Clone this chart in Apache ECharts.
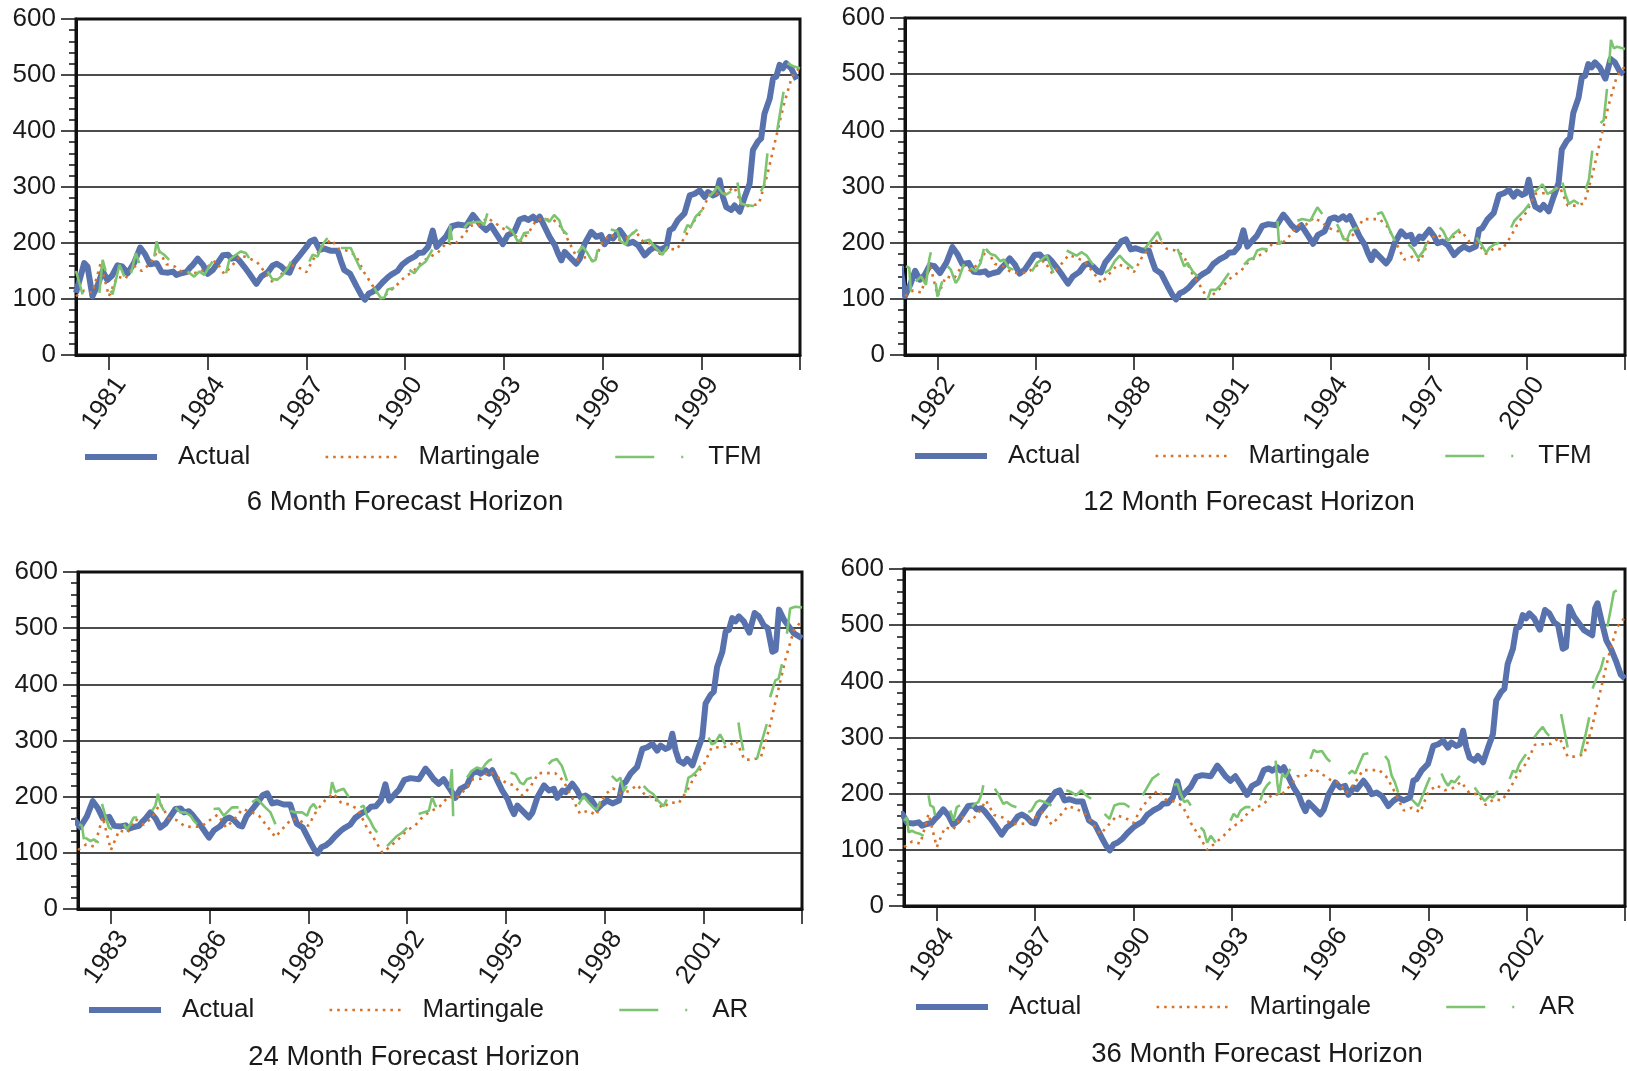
<!DOCTYPE html>
<html>
<head>
<meta charset="utf-8">
<script src="https://cdn.jsdelivr.net/npm/echarts@6/dist/echarts.min.js"></script>
<style>
  html, body { margin: 0; padding: 0; background: #fff; }
  #chart { width: 1627px; height: 1071px; }
</style>
</head>
<body>
<div id="chart"></div>
<script>
// actual index, [year, value]
const actual = [
  [1980.5,111],[1980.75,164],[1980.85,158],[1981.0,105],[1981.16,125],[1981.31,150],[1981.45,134],[1981.6,142],
  [1981.76,160],[1981.9,158],[1982.07,146],[1982.27,165],[1982.45,192],[1982.6,180],[1982.75,162],[1982.95,164],
  [1983.1,148],[1983.3,147],[1983.45,149],[1983.55,143],[1983.7,146],[1983.85,148],[1983.95,155],[1984.05,161],
  [1984.2,172],[1984.36,161],[1984.5,145],[1984.66,152],[1984.81,165],[1984.96,178],[1985.12,179],[1985.22,172],
  [1985.37,174],[1985.47,168],[1985.62,157],[1985.77,145],[1985.98,127],[1986.13,140],[1986.33,148],[1986.48,160],
  [1986.6,163],[1986.74,158],[1986.89,149],[1986.99,147],[1987.12,165],[1987.3,178],[1987.49,192],[1987.62,203],
  [1987.75,206],[1987.9,188],[1988.05,190],[1988.25,186],[1988.45,186],[1988.55,168],[1988.65,152],[1988.83,145],
  [1989.03,122],[1989.17,107],[1989.28,99],[1989.4,110],[1989.52,113],[1989.67,120],[1989.82,130],[1990.0,140],
  [1990.12,145],[1990.27,150],[1990.42,162],[1990.6,170],[1990.8,176],[1990.9,182],[1991.05,183],[1991.2,193],
  [1991.34,222],[1991.46,193],[1991.62,204],[1991.75,212],[1991.92,230],[1992.1,233],[1992.36,231],[1992.56,250],
  [1992.66,243],[1992.81,231],[1992.96,223],[1993.11,231],[1993.32,212],[1993.47,198],[1993.62,214],[1993.82,220],
  [1993.98,242],[1994.13,245],[1994.24,241],[1994.39,247],[1994.49,241],[1994.59,247],[1994.74,229],[1994.89,211],
  [1995.05,196],[1995.15,181],[1995.25,169],[1995.35,184],[1995.5,175],[1995.7,163],[1995.81,172],[1995.96,199],
  [1996.16,220],[1996.31,211],[1996.46,214],[1996.56,198],[1996.72,211],[1996.82,208],[1997.02,223],[1997.17,211],
  [1997.27,199],[1997.42,202],[1997.58,196],[1997.78,178],[1997.93,187],[1998.08,193],[1998.24,188],[1998.44,193],
  [1998.54,223],[1998.64,226],[1998.79,241],[1998.99,253],[1999.15,285],[1999.3,288],[1999.45,294],[1999.6,282],
  [1999.7,291],[1999.86,285],[1999.96,288],[2000.06,312],[2000.16,282],[2000.26,264],[2000.41,259],[2000.51,267],
  [2000.67,256],[2000.82,282],[2000.97,306],[2001.07,366],[2001.22,381],[2001.32,387],[2001.42,431],[2001.58,458],
  [2001.68,494],[2001.78,497],[2001.88,518],[2001.98,512],[2002.08,521],[2002.23,512],[2002.4,492],[2002.56,527],
  [2002.69,521],[2002.84,505],[2002.96,500],[2003.1,458],[2003.2,461],[2003.3,533],[2003.45,515],[2003.6,503],
  [2003.75,491],[2004.0,482],[2004.09,530],[2004.16,539],[2004.29,506],[2004.43,473],[2004.57,458],[2004.72,437],
  [2004.87,412],[2005.0,405]
];

// martingale forecast, one value per quarter from the panel start
const martingale = [
  105,115,111,164, 105,140,136,160, 150,163,188,162, 158,147,146,147, 158,168,145,160,
  178,173,166,147, 128,145,161,157, 148,175,193,206, 189,186,178,148, 125,100,112,125,
  140,149,166,175, 183,200,197,212, 231,232,245,235, 225,220,202,218, 242,242,242,228,
  200,170,175,167, 203,215,206,210, 221,201,199,180, 190,188,210,237, 255,287,288,289,
  300,266,266,270, 320,383,445,496, 514
];

// model forecasts, drawn pieces of [year, value]
const tfm6 = [
  [[1980.0,150],[1980.05,152],[1980.2,108]],
  [[1980.71,111],[1980.81,170],[1980.9,150]],
  [[1981.05,115],[1981.11,108],[1981.32,161],[1981.47,140]],
  [[1981.67,146],[1981.82,182],[1981.92,164]],
  [[1982.38,176],[1982.45,203],[1982.53,185],[1982.68,179],[1982.83,170]],
  [[1983.39,149],[1983.59,140],[1983.75,149],[1983.9,143],[1984.05,158],[1984.15,167]],
  [[1984.56,146],[1984.66,170],[1984.86,179],[1985.01,185],[1985.16,182],[1985.26,173]],
  [[1985.82,149],[1985.97,135],[1986.13,135],[1986.28,143],[1986.43,155],[1986.53,167]],
  [[1987.09,167],[1987.19,179],[1987.34,176],[1987.49,197],[1987.64,209]],
  [[1988.05,191],[1988.35,191],[1988.51,170],[1988.66,152]],
  [[1989.06,120],[1989.26,102],[1989.37,102],[1989.47,117],[1989.67,120]],
  [[1990.13,152],[1990.28,146],[1990.43,158],[1990.63,167],[1990.83,188]],
  [[1991.33,200],[1991.37,232],[1991.42,205]],
  [[1991.8,227],[1991.9,235],[1992.1,237],[1992.3,238],[1992.4,232],[1992.5,253]],
  [[1993.06,230],[1993.26,221],[1993.42,203],[1993.52,206],[1993.62,218],[1993.77,219]],
  [[1994.23,244],[1994.38,238],[1994.53,250],[1994.68,241],[1994.78,224],[1994.93,215]],
  [[1995.24,182],[1995.39,194],[1995.54,182],[1995.69,167],[1995.79,170],[1995.85,188]],
  [[1996.25,224],[1996.45,221],[1996.55,203],[1996.71,197],[1996.81,212],[1997.06,224]],
  [[1997.26,203],[1997.42,206],[1997.57,194],[1997.72,185],[1997.82,179],[1997.97,194]],
  [[1998.48,218],[1998.58,232],[1998.68,229],[1998.83,247],[1999.03,259]],
  [[1999.24,283],[1999.39,292],[1999.49,301],[1999.64,289],[1999.74,286],[1999.9,292]],
  [[2000.1,308],[2000.2,271],[2000.35,268],[2000.6,266]],
  [[2000.81,292],[2000.91,304],[2001.01,360]],
  [[2001.31,402],[2001.5,470]],
  [[2001.62,521],[2001.82,515],[2002.0,512]]
];
const tfm12 = [
  [[1981.03,158],[1981.13,155],[1981.18,113]],
  [[1981.33,131],[1981.49,140],[1981.64,125],[1981.74,170],[1981.79,183]],
  [[1981.94,128],[1981.99,104],[1982.14,131]],
  [[1982.3,158],[1982.4,152],[1982.55,128],[1982.65,137],[1982.8,162]],
  [[1983.0,155],[1983.16,149],[1983.31,164],[1983.41,189]],
  [[1983.47,189],[1983.61,180],[1983.76,177],[1983.91,167],[1984.02,170],[1984.17,155],[1984.32,152]],
  [[1984.88,149],[1985.03,164],[1985.18,170],[1985.33,177],[1985.43,161],[1985.54,146]],
  [[1985.94,186],[1986.24,177],[1986.4,183],[1986.55,177],[1986.75,160]],
  [[1987.1,146],[1987.26,152],[1987.41,167],[1987.56,177],[1987.71,167],[1987.97,154]],
  [[1988.32,189],[1988.47,200],[1988.72,219],[1988.83,204]],
  [[1989.33,189],[1989.43,173],[1989.53,158],[1989.64,164],[1989.79,149],[1989.94,140]],
  [[1990.24,98],[1990.34,116],[1990.5,116],[1990.65,125],[1990.9,146]],
  [[1991.36,161],[1991.51,170],[1991.66,173],[1991.76,186],[1991.91,189],[1992.08,188]],
  [[1992.38,239],[1992.43,197],[1992.53,203]],
  [[1992.99,239],[1993.14,242],[1993.39,239],[1993.49,251],[1993.6,263],[1993.75,251]],
  [[1994.2,233],[1994.3,221],[1994.4,206],[1994.51,206],[1994.61,221],[1994.81,227]],
  [[1995.42,251],[1995.57,254],[1995.72,236],[1995.82,221],[1995.97,203]],
  [[1996.38,197],[1996.53,188],[1996.68,173],[1996.84,185],[1996.94,200]],
  [[1997.34,227],[1997.44,221],[1997.59,203],[1997.75,215],[1997.95,224]],
  [[1998.46,209],[1998.61,197],[1998.76,182],[1998.86,191],[1999.01,197],[1999.16,200]],
  [[1999.52,227],[1999.62,239],[1999.77,248],[1999.92,257],[2000.08,269]],
  [[2000.23,290],[2000.38,298],[2000.48,304],[2000.63,287],[2000.73,290],[2000.94,298]],
  [[2001.09,307],[2001.19,284],[2001.29,269],[2001.44,275],[2001.59,269]],
  [[2001.8,295],[2001.9,313],[2002.0,364]],
  [[2002.25,413],[2002.35,418],[2002.45,474]],
  [[2002.52,520],[2002.57,561],[2002.66,546],[2002.76,549],[2003.0,545]]
];
const ar24 = [
  [[1982.04,151],[1982.12,148],[1982.18,124]],
  [[1982.22,127],[1982.38,121],[1982.48,124],[1982.63,118]],
  [[1982.73,187],[1982.83,166],[1982.94,145],[1983.04,142]],
  [[1983.39,151],[1983.49,142],[1983.59,151],[1983.69,163],[1983.8,163]],
  [[1984.25,175],[1984.35,184],[1984.43,205],[1984.5,187],[1984.61,175]],
  [[1984.96,181],[1985.11,172],[1985.26,172],[1985.42,166],[1985.52,157],[1985.62,151]],
  [[1986.12,178],[1986.28,179],[1986.43,166],[1986.58,175],[1986.68,181],[1986.88,181]],
  [[1987.29,190],[1987.44,196],[1987.59,187],[1987.69,181],[1987.85,172],[1988.0,151]],
  [[1988.45,175],[1988.61,172],[1988.81,172],[1988.96,166],[1989.06,181],[1989.16,187],[1989.26,178]],
  [[1989.67,205],[1989.72,226],[1989.82,208],[1989.92,211],[1990.07,214],[1990.23,199]],
  [[1990.58,181],[1990.68,184],[1990.78,166],[1990.88,157],[1990.98,145],[1991.09,136]],
  [[1991.39,112],[1991.49,118],[1991.59,124],[1991.69,130],[1991.85,136],[1992.0,145]],
  [[1992.35,169],[1992.5,172],[1992.66,175],[1992.76,199],[1992.86,184],[1992.91,183]],
  [[1993.3,215],[1993.36,249],[1993.4,165]],
  [[1993.82,234],[1993.97,246],[1994.12,252],[1994.28,249],[1994.38,258],[1994.48,264],[1994.58,267]],
  [[1995.14,243],[1995.29,240],[1995.44,225],[1995.54,222],[1995.64,231],[1995.79,234]],
  [[1996.3,258],[1996.4,264],[1996.55,267],[1996.7,255],[1996.81,237],[1996.86,228]],
  [[1997.21,186],[1997.36,201],[1997.52,189],[1997.67,180],[1997.77,177],[1997.87,192]],
  [[1998.22,237],[1998.38,228],[1998.48,234],[1998.58,210],[1998.68,219]],
  [[1999.19,219],[1999.34,210],[1999.49,204],[1999.64,192],[1999.79,183],[1999.89,195]],
  [[2000.45,207],[2000.55,234],[2000.65,237],[2000.81,246],[2000.91,255]],
  [[2001.16,305],[2001.26,293],[2001.36,296],[2001.51,311],[2001.67,293]],
  [[2002.07,332],[2002.12,311],[2002.22,282]],
  [[2002.63,267],[2002.78,299],[2002.93,329]],
  [[2003.03,377],[2003.19,407],[2003.29,410],[2003.39,436]],
  [[2003.54,490],[2003.64,535],[2003.79,538],[2004.0,537]]
];
const ar36 = [
  [[1983.01,152],[1983.09,158],[1983.14,131],[1983.24,134],[1983.34,131],[1983.5,128],[1983.6,125]],
  [[1983.75,197],[1983.8,179],[1983.9,176],[1983.95,161]],
  [[1984.41,170],[1984.51,152],[1984.61,176],[1984.71,179]],
  [[1985.07,176],[1985.17,182],[1985.27,185],[1985.37,200],[1985.42,215]],
  [[1985.77,209],[1985.87,200],[1986.03,182],[1986.13,185],[1986.28,179],[1986.43,176]],
  [[1986.79,167],[1986.89,170],[1987.04,185],[1987.14,188],[1987.29,185],[1987.5,179]],
  [[1987.95,206],[1988.1,203],[1988.25,197],[1988.41,206],[1988.56,197],[1988.71,191]],
  [[1989.12,164],[1989.27,155],[1989.42,179],[1989.57,182],[1989.72,182],[1989.88,176]],
  [[1990.28,197],[1990.43,212],[1990.58,227],[1990.79,236]],
  [[1991.24,215],[1991.34,218],[1991.44,200],[1991.55,185],[1991.65,188],[1991.75,179]],
  [[1992.05,140],[1992.15,134],[1992.25,113],[1992.36,125],[1992.51,113]],
  [[1992.96,152],[1993.06,164],[1993.17,158],[1993.27,170],[1993.42,176],[1993.57,176]],
  [[1993.87,188],[1993.98,206],[1994.08,215],[1994.18,221]],
  [[1994.34,259],[1994.39,220],[1994.44,199],[1994.54,235],[1994.64,229],[1994.79,244]],
  [[1995.4,262],[1995.5,278],[1995.6,274],[1995.75,276],[1995.91,262],[1996.01,257]],
  [[1996.56,235],[1996.67,241],[1996.77,236],[1996.87,250],[1997.02,270],[1997.17,272]],
  [[1997.68,267],[1997.78,259],[1997.88,232],[1997.98,220],[1998.08,202]],
  [[1998.49,190],[1998.59,184],[1998.69,178],[1998.84,199],[1998.94,214],[1999.05,229]],
  [[1999.4,236],[1999.5,223],[1999.6,214],[1999.7,223],[1999.8,220],[1999.96,232]],
  [[2000.41,211],[2000.56,199],[2000.72,187],[2000.87,196],[2000.97,193],[2001.12,205]],
  [[2001.48,226],[2001.58,241],[2001.68,238],[2001.78,253],[2001.88,262],[2001.98,270]],
  [[2002.23,300],[2002.34,309],[2002.49,319],[2002.59,309],[2002.69,303]],
  [[2003.05,342],[2003.15,312],[2003.25,282]],
  [[2003.65,270],[2003.8,306],[2003.91,336]],
  [[2004.01,387],[2004.16,410],[2004.26,422],[2004.36,443]],
  [[2004.46,497],[2004.56,527],[2004.66,559],[2004.75,562]]
];

const titles = ["6 Month Forecast Horizon", "12 Month Forecast Horizon", "24 Month Forecast Horizon", "36 Month Forecast Horizon"];
const models = ["TFM", "TFM", "AR", "AR"];
const forecasts = [tfm6, tfm12, ar24, ar36];
const xMins = [1980, 1981, 1982, 1983];
const tickYears = [
  [1981, 1984, 1987, 1990, 1993, 1996, 1999],
  [1982, 1985, 1988, 1991, 1994, 1997, 2000],
  [1983, 1986, 1989, 1992, 1995, 1998, 2001],
  [1984, 1987, 1990, 1993, 1996, 1999, 2002]
];
// the 6 month panel draws the actual series half a year earlier
const actualShift = [-0.5, 0, 0, 0];

const FONT = "'Liberation Sans', Arial, Helvetica, sans-serif";
const INK = "#111";
const BLUE = "#5872ad";
const ORANGE = "#d5732b";
const GREEN = "#7cc46f";

// layout of each panel
const boxes = [
  { left: 76, top: 19, width: 724, height: 336, legendX: 82, legendY: 444, titleX: 405, titleY: 502 },
  { left: 905, top: 18, width: 720, height: 337, legendX: 912, legendY: 443, titleX: 1249, titleY: 502 },
  { left: 78, top: 572, width: 724, height: 337, legendX: 86, legendY: 997, titleX: 414, titleY: 1057 },
  { left: 904, top: 569, width: 721, height: 337, legendX: 913, legendY: 994, titleX: 1257, titleY: 1054 }
];

function joinPieces(pieces) {
  const out = [];
  pieces.forEach((p, i) => {
    if (i > 0) out.push([p[0][0], "-"]);
    p.forEach((pt) => out.push(pt));
  });
  return out;
}

const grid = [], xAxis = [], yAxis = [], series = [], legend = [], graphic = [];

boxes.forEach((b, i) => {
  const xMax = xMins[i] + 22;
  grid.push({
    left: b.left, top: b.top, width: b.width, height: b.height,
    show: true, borderColor: INK, borderWidth: 3, backgroundColor: "#fff"
  });
  xAxis.push({
    type: "value", gridIndex: i, min: xMins[i], max: xMax,
    axisLine: { show: true, onZero: false, lineStyle: { color: INK, width: 3 } },
    axisTick: { show: true, length: 15, lineStyle: { color: INK, width: 1.5 },
      customValues: tickYears[i].concat([xMax]) },
    axisLabel: { customValues: tickYears[i], rotate: 55, fontSize: 26, color: "#1a1a1a",
      fontFamily: FONT, margin: 42, align: "center", verticalAlign: "middle",
      padding: [0, 16, 0, 0], formatter: (v) => String(v) },
    splitLine: { show: false }
  });
  yAxis.push({
    type: "value", gridIndex: i, min: 0, max: 600, interval: 100,
    axisLine: { show: true, lineStyle: { color: INK, width: 3 } },
    axisTick: { show: true, length: 15, lineStyle: { color: INK, width: 1.5 } },
    minorTick: { show: true, splitNumber: 5, length: 7, lineStyle: { color: INK, width: 1.5 } },
    splitLine: { show: true, lineStyle: { color: INK, width: 1.5 } },
    axisLabel: { fontSize: 26, color: "#1a1a1a", fontFamily: FONT, margin: 20 }
  });

  // points of the actual series that fall in this panel's window
  const actualData = actual
    .map(([t, v]) => [t + actualShift[i], v])
    .filter(([t]) => t >= xMins[i] - 0.25 && t <= xMax);

  series.push({
    name: "Actual", type: "line", xAxisIndex: i, yAxisIndex: i, z: 2,
    symbol: "none", animation: false,
    data: actualData,
    lineStyle: { color: BLUE, width: 6, join: "round" }, itemStyle: { color: BLUE }
  });
  series.push({
    name: "Martingale", type: "line", xAxisIndex: i, yAxisIndex: i, z: 3,
    symbol: "none", animation: false,
    data: martingale.map((v, k) => [xMins[i] + k * 0.25, v]),
    lineStyle: { color: ORANGE, width: 2.6, type: [2.6, 5] }, itemStyle: { color: ORANGE }
  });
  series.push({
    name: models[i], type: "line", xAxisIndex: i, yAxisIndex: i, z: 4,
    symbol: "none", animation: false, connectNulls: false,
    data: joinPieces(forecasts[i]),
    lineStyle: { color: GREEN, width: 2.6 }, itemStyle: { color: GREEN }
  });

  legend.push({
    left: b.legendX, top: b.legendY, orient: "horizontal",
    itemWidth: 72, itemHeight: 14, itemGap: 74, padding: 0,
    selectedMode: false,
    itemStyle: { opacity: 0 },
    textStyle: { fontSize: 26, color: "#1a1a1a", fontFamily: FONT, padding: [0, 0, 0, 16] },
    data: [
      { name: "Actual", lineStyle: { color: BLUE, width: 6, type: "solid" } },
      { name: "Martingale", lineStyle: { color: ORANGE, width: 2.6, type: [2.6, 5] } },
      { name: models[i], lineStyle: { color: GREEN, width: 2.6, type: [39, 27, 2, 27] } }
    ]
  });

  graphic.push({
    type: "text", x: b.titleX, y: b.titleY,
    style: { text: titles[i], fill: "#1a1a1a", font: "27.5px " + FONT,
      textAlign: "center", textVerticalAlign: "middle" }
  });
});

const chart = echarts.init(document.getElementById("chart"));
chart.setOption({
  animation: false,
  backgroundColor: "#fff",
  grid, xAxis, yAxis, series, legend, graphic
});
</script>
</body>
</html>
